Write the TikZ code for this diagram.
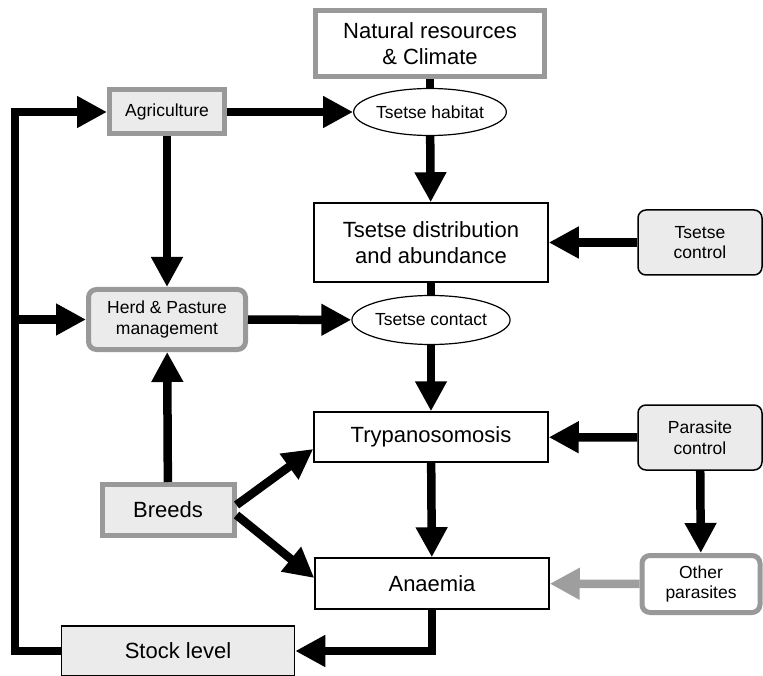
\documentclass[tikz,border=0pt]{standalone}
\usepackage{fontspec}
\setmainfont{Liberation Sans}
\usetikzlibrary{arrows.meta,shapes.geometric}
\definecolor{boxgrey}{gray}{0.6}
\definecolor{boxfill}{gray}{0.92}
\definecolor{arrgrey}{gray}{0.62}

\begin{document}
\begin{tikzpicture}[x=1pt,y=-1pt]
\tikzset{big/.style={font=\fontsize{22}{26.5}\selectfont},
  small/.style={font=\fontsize{17.5}{20.5}\selectfont},
  plainbox/.style={draw,line width=1.5pt,fill=white,minimum width=234,inner sep=0,align=center,big},
  greybox/.style={draw=boxgrey,line width=5pt,fill=boxfill,inner sep=0,align=center,small},
  ctrlbox/.style={draw,line width=1.5pt,fill=boxfill,rounded corners=8,inner sep=0,align=center,small},
  oval/.style={ellipse,draw,line width=1.2pt,fill=white,inner sep=0,small},
  link/.style={line width=8.5pt},
  arr/.style={link,-{Triangle[length=30pt,width=30pt]}}}
\useasboundingbox (0,0) rectangle (763,676);
\node[plainbox,draw=boxgrey,line width=5pt,minimum width=229,minimum height=66] (nat) at (430,43.5) {Natural resources\\\& Climate};
\node[oval,minimum width=140,minimum height=47] (hab) at (430,112) {Tsetse habitat};
\node[greybox,minimum width=115,minimum height=44] (agri) at (167,112) {Agriculture};
\node[plainbox,minimum height=79] (dist) at (431,242.5) {Tsetse distribution\\and abundance};
\node[ctrlbox,minimum width=124,minimum height=65] (tctrl) at (700,242.5) {Tsetse\\control};
\node[greybox,rounded corners=8,minimum width=157,minimum height=60] (herd) at (167,319.5) {Herd \& Pasture\\management};
\node[oval,minimum width=141,minimum height=49] (cont) at (431,320) {Tsetse contact};
\node[plainbox,minimum height=50] (tryp) at (431,437) {Trypanosomosis};
\node[ctrlbox,minimum width=124,minimum height=65] (pctrl) at (700,437.5) {Parasite\\control};
\node[greybox,big,minimum width=132,minimum height=51] (breeds) at (168,510) {Breeds};
\node[plainbox,minimum height=51] (anae) at (432,583.5) {Anaemia};
\node[greybox,fill=white,rounded corners=8,minimum width=118,minimum height=57] (other) at (701,584) {Other\\parasites};
\node[ctrlbox,rounded corners=0,big,minimum width=233,minimum height=50] (stock) at (178,651) {Stock level};
\coordinate (corner) at (15,112);
\draw[link] (nat) -- (hab);
\draw[arr] (agri) -- (hab);
\draw[arr] (hab) -- (dist);
\draw[arr] (tctrl) -- (dist);
\draw[link] (dist) -- (cont);
\draw[arr] (agri) -- (herd);
\draw[arr] (herd) -- (cont);
\draw[arr] (cont) -- (tryp);
\draw[arr] (breeds) -- (herd);
\draw[arr] ([yshift=5pt]breeds.east) -- ([yshift=-12pt]tryp.west);
\draw[arr] ([yshift=-5pt]breeds.east) -- ([yshift=5.5pt]anae.west);
\draw[arr] (pctrl) -- (tryp);
\draw[arr] (pctrl) -- (other);
\draw[arr] (tryp) -- (anae);
\draw[arr,arrgrey] (other) -- (anae);
\draw[arr] (anae) |- (stock);
\draw[arr,line join=miter] (stock) -| (corner) -- (agri);
\draw[arr] (corner |- herd) -- (herd);
\end{tikzpicture}
\end{document}
